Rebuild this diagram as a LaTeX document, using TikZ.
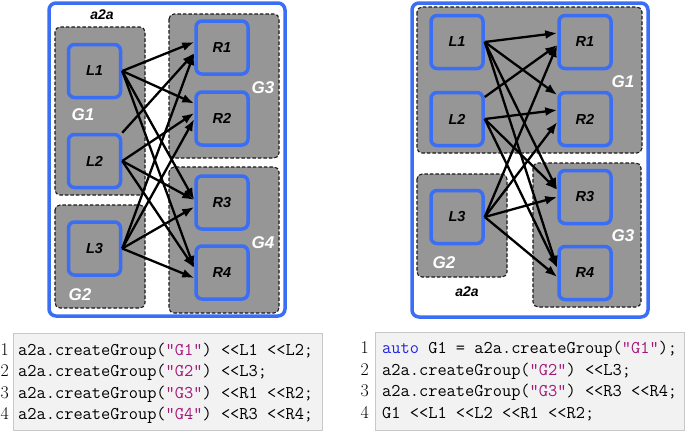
\documentclass[tikz,border=0pt]{standalone}
\usepackage{fontspec}
\newfontfamily\lblfont{Liberation Sans}
\usetikzlibrary{arrows.meta,calc}
\definecolor{boxblue}{RGB}{58,110,245}
\definecolor{boxgray}{RGB}{150,150,150}
\definecolor{strcol}{RGB}{163,21,121}
\definecolor{kwcol}{RGB}{35,35,230}
\definecolor{codebg}{RGB}{242,242,242}
\definecolor{codeframe}{RGB}{200,200,200}
\begin{document}
\begin{tikzpicture}[x=1pt,y=-1pt,
 outerbox/.style={draw=boxblue, line width=3.5pt, rounded corners=7pt, fill=white},
 groupbox/.style={draw=black!90, dash pattern=on 3.5pt off 2pt, line width=1.1pt, fill=boxgray, rounded corners=5pt},
 procbox/.style={draw=boxblue, line width=3.5pt, fill=boxgray, rounded corners=6pt, minimum width=52pt, minimum height=53pt, inner sep=0pt, font=\lblfont\bfseries\itshape\fontsize{14.5}{16}\selectfont},
 grouplabel/.style={text=white, font=\lblfont\bfseries\itshape\fontsize{17}{19}\selectfont, inner sep=0pt},
 a2alabel/.style={font=\lblfont\bfseries\itshape\fontsize{14}{16}\selectfont, inner sep=0pt},
 link/.style={-{Latex[length=12pt,width=9pt]}, line width=2.3pt, black},
 codebox/.style={fill=codebg, draw=codeframe, line width=0.8pt},
 codeline/.style={anchor=base west, inner sep=0pt, font=\ttfamily\fontsize{17.9}{21}\selectfont},
 lineno/.style={anchor=base east, inner sep=0pt, font=\rmfamily\fontsize{17.9}{21}\selectfont}
]
\useasboundingbox (0,0) rectangle (685,431);

% ---------------- left panel ----------------
\path[outerbox] (49,3) rectangle (285,316);
\path[groupbox] (55,27) rectangle (145,195);
\path[groupbox] (55,205) rectangle (145,308);
\path[groupbox] (169,14) rectangle (279,158);
\path[groupbox] (169,167) rectangle (279,313);

\node[a2alabel] (la2a) at (102,15) {a2a};
\node[grouplabel] (lG1) at (83,115) {G1};
\node[grouplabel] (lG2) at (80,295) {G2};
\node[grouplabel] (lG3) at (263,88) {G3};
\node[grouplabel] (lG4) at (263,243) {G4};

\node[procbox] (L1) at (94.5,71) {L1};
\node[procbox] (L2) at (94.5,161) {L2};
\node[procbox] (L3) at (94.5,248.5) {L3};
\node[procbox] (R1) at (222,47.5) {R1};
\node[procbox] (R2) at (222,118.5) {R2};
\node[procbox] (R3) at (222,202.5) {R3};
\node[procbox] (R4) at (222,272.5) {R4};

\draw[link] (L1.east) -- ($(R1.west)+(0,-5.5)$);
\draw[link] (L1.east) -- ($(R2.west)+(0,-15)$);
\draw[link] (L1.east) -- ($(R3.west)+(0,-2.5)$);
\draw[link] (L1.east) -- ($(R4.west)+(0,-4.5)$);
\draw[link] (L2.north east) -- ($(R1.west)+(0,5.5)$);
\draw[link] (L2.east) -- ($(R2.west)+(0,-5.5)$);
\draw[link] (L2.east) -- ($(R3.west)+(0,-2.5)$);
\draw[link] (L2.east) -- ($(R4.west)+(0,-4.5)$);
\draw[link] (L3.east) -- ($(R1.west)+(0,5.5)$);
\draw[link] (L3.east) -- ($(R2.west)+(0,0.5)$);
\draw[link] (L3.east) -- ($(R3.west)+(0,4.5)$);
\draw[link] (L3.east) -- ($(R4.west)+(0,5.5)$);

% ---------------- right panel ----------------
\path[outerbox] (412,3) rectangle (648,317);
\path[groupbox] (417,7) rectangle (642,153);
\path[groupbox] (417,174) rectangle (507,277);
\path[groupbox] (533,163) rectangle (641,307);

\node[grouplabel] (rG1) at (623,82) {G1};
\node[grouplabel] (rG2) at (444,263) {G2};
\node[grouplabel] (rG3) at (623,236) {G3};
\node[a2alabel] (ra2a) at (467,292) {a2a};

\node[procbox] (rL1) at (457,42) {L1};
\node[procbox] (rL2) at (457,119) {L2};
\node[procbox] (rL3) at (457,217) {L3};
\node[procbox] (rR1) at (585,42) {R1};
\node[procbox] (rR2) at (585,119) {R2};
\node[procbox] (rR3) at (585,197) {R3};
\node[procbox] (rR4) at (585,273) {R4};

\draw[link] (rL1.east) -- ($(rR1.west)+(0,-9)$);
\draw[link] (rL1.east) -- ($(rR2.west)+(0,-24)$);
\draw[link] (rL1.east) -- ($(rR3.west)+(0,-7)$);
\draw[link] (rL1.east) -- ($(rR4.west)+(0,-5)$);
\draw[link] ($(rL2.east)+(0,-22)$) -- ($(rR1.west)+(0,3)$);
\draw[link] (rL2.east) -- ($(rR2.west)+(0,-9)$);
\draw[link] (rL2.east) -- ($(rR3.west)+(0,-7)$);
\draw[link] (rL2.east) -- ($(rR4.west)+(0,-5)$);
\draw[link] (rL3.east) -- ($(rR1.west)+(0,3)$);
\draw[link] (rL3.east) -- ($(rR2.west)+(0,3)$);
\draw[link] (rL3.east) -- ($(rR3.west)+(0,0)$);
\draw[link] (rL3.east) -- ($(rR4.west)+(0,4)$);

% ---------------- code listings ----------------
\path[codebox] (13,333) rectangle (322,430);
\node[lineno] (ln1) at (9,355) {1};
\node[lineno] (ln2) at (9,376.6) {2};
\node[lineno] (ln3) at (9,398.2) {3};
\node[lineno] (ln4) at (9,419.8) {4};
\node[codeline] (lc1) at (18,355) {a2a.createGroup(\textcolor{strcol}{"G1"}) <<L1 <<L2;};
\node[codeline] (lc2) at (18,376.6) {a2a.createGroup(\textcolor{strcol}{"G2"}) <<L3;};
\node[codeline] (lc3) at (18,398.2) {a2a.createGroup(\textcolor{strcol}{"G3"}) <<R1 <<R2;};
\node[codeline] (lc4) at (18,419.8) {a2a.createGroup(\textcolor{strcol}{"G4"}) <<R3 <<R4;};

\path[codebox] (375,332) rectangle (684.6,430);
\node[lineno] (rn1) at (369,353.5) {1};
\node[lineno] (rn2) at (369,375) {2};
\node[lineno] (rn3) at (369,396.5) {3};
\node[lineno] (rn4) at (369,418) {4};
\node[codeline] (rc1) at (382,353.5) {\textcolor{kwcol}{auto} G1 = a2a.createGroup(\textcolor{strcol}{"G1"});};
\node[codeline] (rc2) at (382,375) {a2a.createGroup(\textcolor{strcol}{"G2"}) <<L3;};
\node[codeline] (rc3) at (382,396.5) {a2a.createGroup(\textcolor{strcol}{"G3"}) <<R3 <<R4;};
\node[codeline] (rc4) at (382,418) {G1 <<L1 <<L2 <<R1 <<R2;};
\end{tikzpicture}
\end{document}
